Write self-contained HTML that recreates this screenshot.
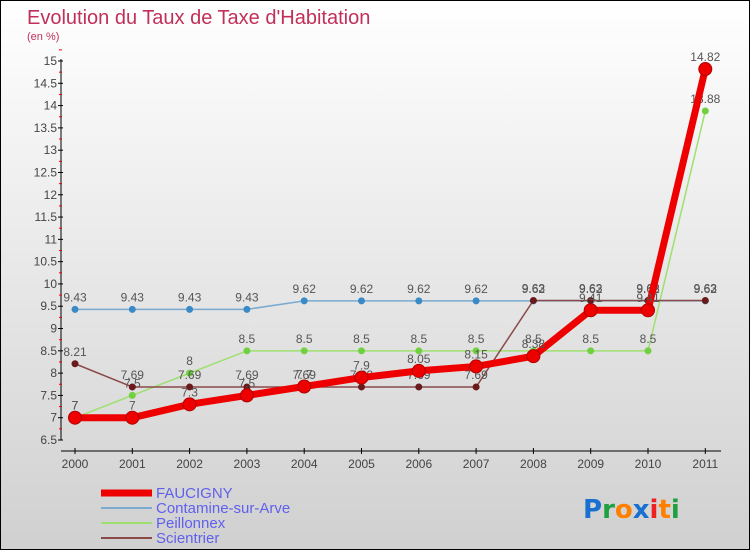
<!DOCTYPE html>
<html><head><meta charset="utf-8">
<style>
body{margin:0;}
#wrap{width:748px;height:548px;border:1px solid #000;background:linear-gradient(#fff,#d0d0d0);position:relative;overflow:hidden;font-family:"Liberation Sans",sans-serif;}
</style></head>
<body>
<div id="wrap">
<svg id="chart" width="748" height="548"></svg>
</div>
<script>
const years=["2000","2001","2002","2003","2004","2005","2006","2007","2008","2009","2010","2011"];
const faucigny=[7,7,7.3,7.5,7.7,7.9,8.05,8.15,8.38,9.41,9.41,14.82];
const contamine=[9.43,9.43,9.43,9.43,9.62,9.62,9.62,9.62,9.62,9.62,9.62,9.62];
const peillonnex=[7,7.5,8,8.5,8.5,8.5,8.5,8.5,8.5,8.5,8.5,13.88];
const scientrier=[8.21,7.69,7.69,7.69,7.69,7.69,7.69,7.69,9.63,9.63,9.63,9.63];
const yTicks=[6.5,7,7.5,8,8.5,9,9.5,10,10.5,11,11.5,12,12.5,13,13.5,14,14.5,15];
const NS="http://www.w3.org/2000/svg";
const svg=document.getElementById('chart');
const X=i=>74+i*57.3;
const Y=v=>439-(v-6.5)*(379/8.5);
function mk(t,a,p){const e=document.createElementNS(NS,t);for(const k in a)e.setAttribute(k,a[k]);(p||svg).appendChild(e);return e;}
function txt(x,y,s,a,p){const e=mk('text',Object.assign({x:x,y:y,'font-size':12,fill:'#555','font-family':'Liberation Sans, sans-serif'},a||{}),p);e.textContent=s;return e;}
const t1=txt(26,23,"Evolution du Taux de Taxe d'Habitation",{'font-size':20,fill:'#c0305a'});


const t2=txt(26,39,"(en %)",{'font-size':11,fill:'#c0305a'});


const ax=mk('g',{});


mk('line',{x1:60,y1:Y(15)-2,x2:60,y2:Y(6.5),stroke:'#000'},ax);
yTicks.forEach(v=>{mk('line',{x1:57,x2:62,y1:Y(v),y2:Y(v),stroke:'#000'},ax);
 mk('line',{x1:58,x2:61,y1:Y(v+0.25),y2:Y(v+0.25),stroke:'#e00'},ax);
 txt(56,Y(v)+4,String(v),{'text-anchor':'end',fill:'#444'},ax);});
const xa=mk('g',{});


mk('line',{x1:60,x2:720,y1:450,y2:450,stroke:'#000'},xa);
years.forEach((y,i)=>{mk('line',{x1:X(i),x2:X(i),y1:447,y2:453,stroke:'#000'},xa);txt(X(i),467,y,{'text-anchor':'middle',fill:'#444'},xa);});
function series(name,data,color,w,r,dot,st){
 const g=mk('g',{});
 
 
 mk('polyline',{points:data.map((v,i)=>X(i)+','+Y(v)).join(' '),fill:'none',stroke:color,'stroke-width':w},g);
 data.forEach((v,i)=>{const c=mk('circle',{cx:X(i),cy:Y(v),r:r,fill:dot,stroke:st||'none'},g);
  
  
  txt(X(i),Y(v)-8,String(v),{'text-anchor':'middle',fill:'#555'},g);});
}
series('contamine',contamine,'#7aaad0',1.5,3.5,'#3a8ac8');
series('peillonnex',peillonnex,'#9ee070',1.5,3.5,'#70d040');
series('scientrier',scientrier,'#8a4a4a',1.5,3.5,'#6a1a1a');
series('faucigny',faucigny,'#ee0000',7,6.5,'#ee0000','#b00000');
const lg=[['FAUCIGNY','#ee0000',7],['Contamine-sur-Arve','#7aaad0',2],['Peillonnex','#9ee070',2],['Scientrier','#8a4a4a',2]];
lg.forEach((l,i)=>{const g=mk('g',{});
 
 
 const y=492+i*15;
 mk('line',{x1:100,x2:151,y1:y,y2:y,stroke:l[1],'stroke-width':l[2]},g);
 txt(155,y+5,l[0],{'font-size':15,fill:'#6060ee'},g);});
const lo=mk('g',{});


const cols=['#1a70d0','#20a040','#ff8000','#1a70d0','#ee2020','#ff8000','#20a040'];
const lt=mk('text',{x:582,y:517,'font-size':26,'font-family':'DejaVu Sans, sans-serif','font-weight':'bold'},lo);
'Proxiti'.split('').forEach((c,i)=>{const s=mk('tspan',{fill:cols[i]},lt);s.textContent=c;});
</script>
</body></html>
